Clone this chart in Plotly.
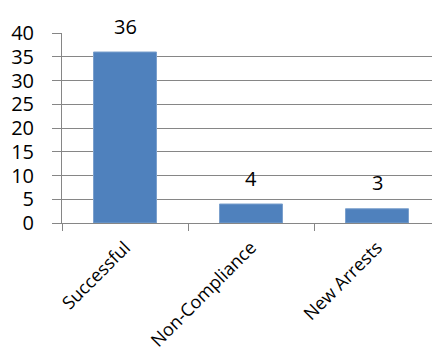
import plotly.graph_objects as go

categories = ["Successful", "Non-Compliance", "New Arrests"]
values = [36, 4, 3]
y_ticks = [0, 5, 10, 15, 20, 25, 30, 35, 40]

fig = go.Figure()
fig.add_trace(go.Bar(
    x=categories, y=values,
    marker=dict(color="#4F81BD", line=dict(color="#7BA0CD", width=1)),
    width=0.5,
))
for c, v in zip(categories, values):
    fig.add_annotation(x=c, y=v, text=str(v), showarrow=False, yshift=26,
                       font=dict(size=20, color="black", family="Open Sans"))

fig.update_layout(
    width=440, height=350,
    margin=dict(l=54, r=8, t=25, b=135, autoexpand=False),
    paper_bgcolor="white", plot_bgcolor="white",
    showlegend=False,
    font=dict(family="Open Sans", color="black"),
)
fig.update_yaxes(
    range=[0, 40], tickvals=y_ticks, showgrid=True, gridcolor="#868686", gridwidth=1,
    showline=True, linecolor="#868686", linewidth=1,
    ticks="outside", ticklen=9, tickcolor="#868686",
    tickfont=dict(size=20, family="Open Sans"), ticklabelstandoff=14,
    zeroline=False, automargin=False,
)
fig.update_xaxes(
    type="category", showline=True, linecolor="#868686", linewidth=1,
    ticks="outside", tickson="boundaries", ticklen=7, tickcolor="#868686",
    tickangle=-45, tickfont=dict(size=18, family="Open Sans"), ticklabelstandoff=6,
    showgrid=False, automargin=False,
)
fig.write_html("out.html")
